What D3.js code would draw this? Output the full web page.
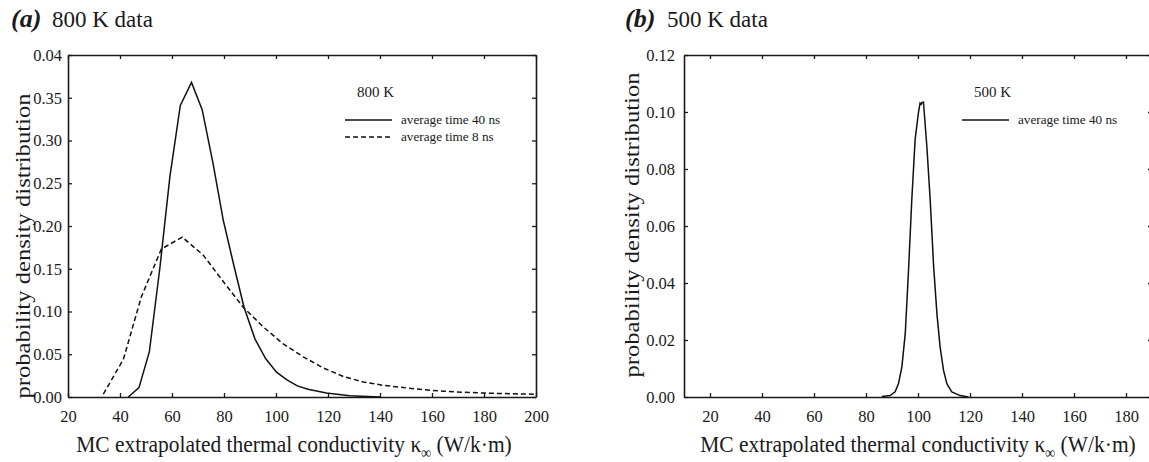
<!DOCTYPE html>
<html>
<head>
<meta charset="utf-8">
<script src="https://cdn.jsdelivr.net/npm/d3@7"></script>
<style>
  html, body { margin: 0; padding: 0; background: #fff; }
  svg { display: block; }
  text { font-family: "Liberation Serif", "Times New Roman", serif; fill: #1a1a1a; }
</style>
</head>
<body>
<svg id="chart" width="1149" height="462"></svg>
<script>
// panel (a) 800 K
const xTicksA = [20, 40, 60, 80, 100, 120, 140, 160, 180, 200];
const yTicksA = [0, 0.05, 0.10, 0.15, 0.20, 0.25, 0.30, 0.35, 0.40];
const yTickLabelsA = ["0.00", "0.05", "0.10", "0.15", "0.20", "0.25", "0.30", "0.35", "0.04"];

const avg40ns800K = [
  [43.2, 0], [47.3, 0.0109], [51.3, 0.053], [55.3, 0.150], [59.2, 0.258],
  [63.2, 0.341], [67.5, 0.368], [71.6, 0.336], [75.8, 0.273], [79.7, 0.207],
  [83.7, 0.155], [87.7, 0.105], [91.9, 0.068], [96.0, 0.045], [100.2, 0.029],
  [104.2, 0.020], [108.2, 0.013], [112.3, 0.009], [119.4, 0.0047],
  [128.4, 0.0016], [140, 0]
];

const avg8ns800K = [
  [33.6, 0.0035], [41.3, 0.044], [48.2, 0.117], [55.9, 0.173], [63.9, 0.187],
  [72.0, 0.166], [79.7, 0.135], [87.4, 0.105], [95.1, 0.082], [102.8, 0.062],
  [110.5, 0.047], [118.2, 0.034], [125.9, 0.024], [133.5, 0.0176],
  [141.2, 0.0137], [149.0, 0.011], [156.6, 0.0086], [164.3, 0.0068],
  [172.0, 0.0056], [179.7, 0.0047], [187.4, 0.0040], [200, 0.0032]
];

// panel (b) 500 K
const xTicksB = [20, 40, 60, 80, 100, 120, 140, 160, 180];
const yTicksB = [0, 0.02, 0.04, 0.06, 0.08, 0.10, 0.12];
const yTickLabelsB = ["0.00", "0.02", "0.04", "0.06", "0.08", "0.10", "0.12"];

const avg40ns500K = [
  [86.1, 0.0002], [89.3, 0.0005], [91.2, 0.0018], [92.5, 0.0047], [93.8, 0.0106],
  [95.1, 0.0223], [96.3, 0.0434], [97.6, 0.069], [98.9, 0.0904], [100.2, 0.1000],
  [100.8, 0.1031], [101.2, 0.1027], [101.5, 0.1033], [102.1, 0.1035],
  [103.4, 0.088], [104.7, 0.069], [106.0, 0.046], [107.3, 0.029], [108.5, 0.0176],
  [109.8, 0.0094], [111.1, 0.0047], [113.0, 0.0018], [116.2, 0.0005], [119.4, 0]
];

const xTitle = "MC extrapolated thermal conductivity ";
const yTitle = "probability density distribution";

const FONT = '"Liberation Serif", "Times New Roman", serif';
const svg = d3.select("#chart");
const TICK = 4;

function drawPanel(p) {
  const x = d3.scaleLinear().domain(p.xDomain).range([p.left, p.right]);
  const y = d3.scaleLinear().domain(p.yDomain).range([p.bottom, p.top]);
  const g = svg.append("g");

  // frame with inward ticks on all four sides
  g.append("g")
    .attr("transform", "translate(0," + p.bottom + ")")
    .call(d3.axisBottom(x).tickValues(p.xTicks).tickSize(-TICK).tickSizeOuter(0).tickPadding(13));
  g.append("g")
    .attr("transform", "translate(0," + p.top + ")")
    .call(d3.axisTop(x).tickValues(p.xTicks).tickSize(-TICK).tickSizeOuter(0).tickFormat(""));
  g.append("g")
    .attr("transform", "translate(" + p.left + ",0)")
    .call(d3.axisLeft(y).tickValues(p.yTicks).tickSize(-TICK).tickSizeOuter(0)
      .tickPadding(p.yPad).tickFormat((d, i) => p.yLabels[i]));
  g.append("g")
    .attr("transform", "translate(" + p.right + ",0)")
    .call(d3.axisRight(y).tickValues(p.yTicks).tickSize(-TICK).tickSizeOuter(0).tickFormat(""));

  g.selectAll(".domain").attr("stroke", "#1a1a1a").attr("stroke-width", 1.6);
  g.selectAll(".tick line").attr("stroke", "#1a1a1a").attr("stroke-width", 1.3);
  g.selectAll(".tick text").attr("fill", "#1a1a1a")
    .style("font-family", FONT).style("font-size", "16.5px");

  const line = d3.line().x(d => x(d[0])).y(d => y(d[1]));
  p.series.forEach(s => {
    g.append("path")
      .datum(s.data)
      .attr("fill", "none")
      .attr("stroke", "#111")
      .attr("stroke-width", 1.5)
      .attr("stroke-dasharray", s.dash || null)
      .attr("d", line);
  });

  // titles
  g.append("text").attr("x", p.tagX).attr("y", 27)
    .style("font-family", FONT).style("font-size", "26px")
    .style("font-weight", "bold").style("font-style", "italic")
    .text(p.tag);
  g.append("text").attr("x", p.titleX).attr("y", 27)
    .style("font-family", FONT).style("font-size", "23px")
    .text(p.title);

  // axis titles are a bit stretched in the source figure
  const xt = g.append("text")
    .attr("transform", "translate(" + p.xTitleX + ",452) scale(1,1.12)")
    .attr("text-anchor", "middle")
    .style("font-family", FONT)
    .style("font-size", "21.5px");
  xt.append("tspan").text(xTitle + "\u03ba");
  xt.append("tspan").attr("dy", 5).style("font-size", "14px").text("\u221e");
  xt.append("tspan").attr("dy", -5).text(" (W/k\u00b7m)");

  g.append("text")
    .attr("transform", "translate(" + p.yTitleX + "," + p.yTitleY + ") rotate(-90) scale(1.12,1)")
    .attr("text-anchor", "middle")
    .style("font-family", FONT)
    .style("font-size", "22px")
    .text(yTitle);

  // legend
  const lg = g.append("g");
  lg.append("text").attr("x", p.legX + 12).attr("y", 97)
    .style("font-family", FONT).style("font-size", "15px").text(p.legTitle);
  p.series.forEach((s, i) => {
    const yy = 120 + i * 17;
    lg.append("line")
      .attr("x1", p.legX).attr("x2", p.legX + 47)
      .attr("y1", yy).attr("y2", yy)
      .attr("stroke", "#111").attr("stroke-width", 1.5)
      .attr("stroke-dasharray", s.dash || null);
    lg.append("text")
      .attr("x", p.legX + 56).attr("y", yy + 4)
      .style("font-family", FONT)
      .style("font-size", "13.2px")
      .text(s.name);
  });
}

drawPanel({
  left: 68, right: 536, top: 55, bottom: 397,
  xDomain: [20, 200], yDomain: [0, 0.4],
  xTicks: xTicksA, yTicks: yTicksA, yLabels: yTickLabelsA, yPad: 6,
  tag: "(a)", tagX: 11, title: "800 K data", titleX: 52,
  xTitleX: 294, yTitleX: 30, yTitleY: 246,
  legTitle: "800 K", legX: 345,
  series: [
    { name: "average time 40 ns", data: avg40ns800K },
    { name: "average time 8 ns", data: avg8ns800K, dash: "5,3" }
  ]
});

drawPanel({
  left: 684, right: 1152, top: 55, bottom: 397,
  xDomain: [10, 190], yDomain: [0, 0.12],
  xTicks: xTicksB, yTicks: yTicksB, yLabels: yTickLabelsB, yPad: 9,
  tag: "(b)", tagX: 625, title: "500 K data", titleX: 667,
  xTitleX: 918, yTitleX: 639, yTitleY: 225,
  legTitle: "500 K", legX: 962,
  series: [
    { name: "average time 40 ns", data: avg40ns500K }
  ]
});
</script>
</body>
</html>
